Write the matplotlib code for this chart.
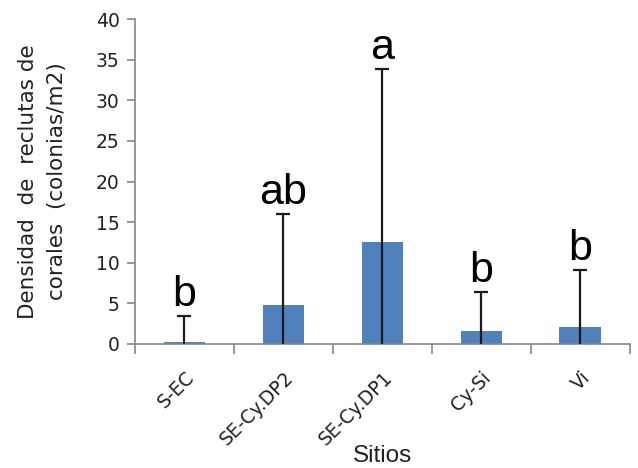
import matplotlib.pyplot as plt
import matplotlib.transforms as mtransforms
import numpy as np

plt.rcParams['font.family'] = ['DejaVu Sans']

# data
sitios = ['S-EC', 'SE-Cy.DP2', 'SE-Cy.DP1', 'Cy-Si', 'Vi']
densidad = [0.3, 4.8, 12.6, 1.6, 2.1]
limite_sup = [3.45, 16.0, 33.9, 6.4, 9.1]
letras = ['b', 'ab', 'a', 'b', 'b']

BAR_COLOR = '#4f81bd'
AXIS_COLOR = '#868686'
TEXT_COLOR = '#222222'


def plot(filename):
  fig = plt.figure(figsize=(6.38, 4.68), dpi=100)
  ax = fig.add_axes([0.2116, 0.265, 0.7754, 0.694])

  x = np.arange(len(sitios))
  ax.bar(x, densidad, width=0.42, color=BAR_COLOR, zorder=2)
  # excel style error bars: line from the base up to the upper limit, cap on top
  ax.vlines(x, 0, limite_sup, color='#1a1a1a', linewidth=1.6, zorder=3)
  ax.plot(x, limite_sup, linestyle='none', marker='_', markersize=9.5,
          markeredgewidth=1.6, color='#1a1a1a', zorder=3)

  for xi, top, lab in zip(x, limite_sup, letras):
    ax.text(xi, top + 0.1, lab, ha='center', va='bottom', fontsize=31,
            family='Liberation Sans', color='black')

  ax.set_xlim(-0.5, len(sitios) - 0.5)
  ax.set_ylim(0, 40)
  ax.set_yticks(range(0, 41, 5))
  ax.set_xticks(x)
  ax.set_xticklabels(sitios, rotation=45, ha='right', va='top',
                     rotation_mode='anchor', fontsize=13.5, color=TEXT_COLOR)
  shift = mtransforms.ScaledTranslation(6 / 100, 0, fig.dpi_scale_trans)
  for lab in ax.get_xticklabels():
    lab.set_transform(lab.get_transform() + shift)
  ax.set_xticks(np.arange(-0.5, len(sitios)), minor=True)
  ax.tick_params(axis='x', which='major', length=0, pad=17)
  ax.tick_params(axis='x', which='minor', length=7, direction='out',
                 color=AXIS_COLOR, width=1.2)
  ax.tick_params(axis='y', length=6, direction='out', color=AXIS_COLOR,
                 width=1.2, labelsize=13.5, labelcolor=TEXT_COLOR, pad=5)

  for side in ('top', 'right'):
    ax.spines[side].set_visible(False)
  for side in ('left', 'bottom'):
    ax.spines[side].set_color(AXIS_COLOR)
    ax.spines[side].set_linewidth(1.2)

  ax.set_ylabel('Densidad  de  reclutas de\ncorales  (colonias/m2)',
                fontsize=15.5, labelpad=21, linespacing=1.55, color=TEXT_COLOR)
  fig.text(0.6, 6 / 468, 'Sitios', ha='center', va='baseline', fontsize=17.5,
           family='Liberation Sans', color=TEXT_COLOR)

  fig.savefig(filename, dpi=100)


plot('out.png')
